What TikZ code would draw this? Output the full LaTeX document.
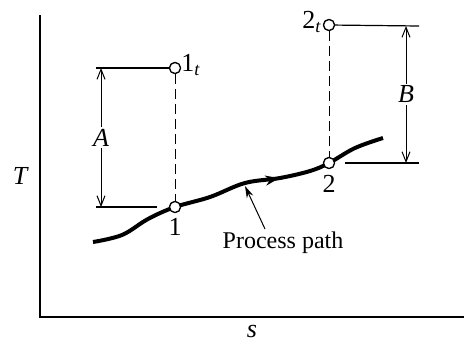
\documentclass[tikz,border=0pt]{standalone}
\usepackage{fontspec}
\setmainfont{Liberation Serif}
\usetikzlibrary{arrows.meta,decorations.markings}
\tikzset{
  state/.style={draw,circle,fill=white,inner sep=0pt,minimum size=5.5pt,line width=0.6pt},
  dim/.style={{Straight Barb[length=5pt,width=4pt]}-{Straight Barb[length=5pt,width=4pt]},line width=0.5pt},
  lbl/.style={font=\fontsize{12}{14}\selectfont},
  sym/.style={font=\fontsize{13}{15}\selectfont\itshape}
}
\begin{document}
\begin{tikzpicture}[x=0.5pt,y=-0.5pt]
\useasboundingbox (0,0) rectangle (464,343);
% axes
\draw[line width=1pt] (40,15) -- (40,317) -- (464,317);
\node[sym] (T) at (20,176) {T};
\node[sym] (S) at (252,331) {s};
% states
\node[state] (p1t) at (175,68) {};
\node[state] (p1) at (175,207) {};
\node[state] (p2t) at (329,25) {};
\node[state] (p2) at (329,163) {};
\coordinate (a1) at (96,68);
\coordinate (a2) at (96,207);
\coordinate (a3) at (157,207);
\coordinate (b1) at (419,26);
\coordinate (b2) at (419,163);
\coordinate (b3) at (345,163);
\coordinate (tip) at (245,186);
\coordinate (tail) at (265,229);
% process path
\draw[line width=2pt,
  postaction={decorate,decoration={markings,mark=at position 0.64 with {\arrow{Stealth[length=7pt,width=5pt]}}}}]
  plot[smooth,tension=0.6] coordinates {(93,242) (122,235) (148,219) (175,207) (210,197) (245,183) (280,178) (310,171) (329,163) (355,148) (383,138)};
\draw[line width=0.5pt,dash pattern=on 5pt off 2.5pt] (p1t) -- (p1);
\draw[line width=0.5pt,dash pattern=on 5pt off 2.5pt] (p2t) -- (p2);
\draw[line width=0.6pt] (a1) -- (p1t);
\draw[line width=0.6pt] (a2) -- (a3);
\draw[line width=0.6pt] (p2t) -- (b1);
\draw[line width=0.6pt] (b3) -- (b2);
\node[state] at (p1t) {};
\node[state] at (p1) {};
\node[state] at (p2t) {};
\node[state] at (p2) {};
% dimensions
\draw[dim] (101,68) -- node[sym,fill=white,inner sep=1pt] (A) {A} (101,207);
\draw[dim] (406,26) -- node[sym,fill=white,inner sep=1pt] (B) {B} (406,163);
% labels
\node[sym,font=\fontsize{13}{15}\selectfont] (l1t) at (191,65) {1\textsubscript{\itshape t}};
\node[sym,font=\fontsize{13}{15}\selectfont] (l1) at (175,227) {1};
\node[sym,font=\fontsize{13}{15}\selectfont] (l2t) at (312,22) {2\textsubscript{\itshape t}};
\node[sym,font=\fontsize{13}{15}\selectfont] (l2) at (329,184) {2};
\node[lbl] (pp) at (283,243) {Process path};
\draw[-{Stealth[length=6pt,width=3.5pt]},line width=0.5pt] (tail) -- (tip);
\end{tikzpicture}
\end{document}
